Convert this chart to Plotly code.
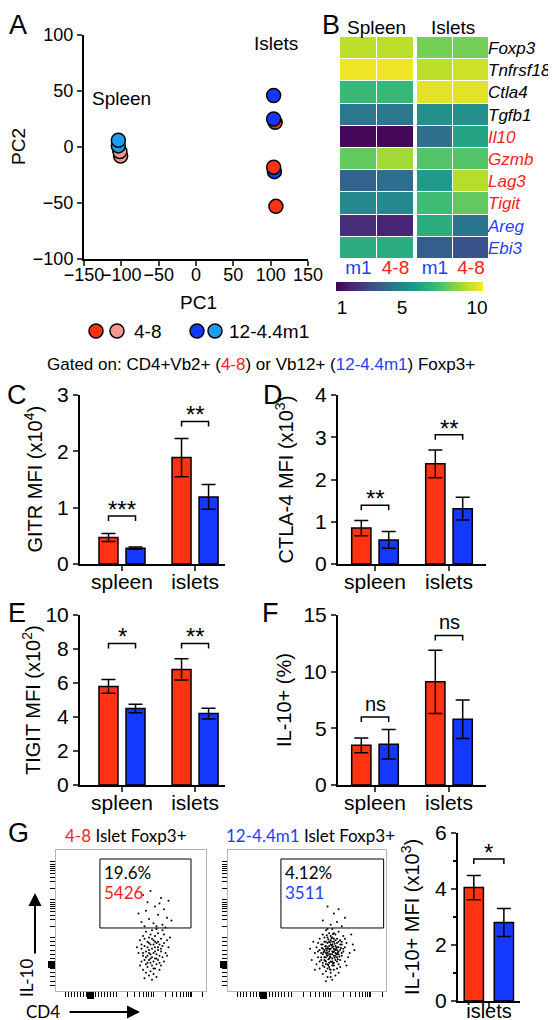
import numpy as np
import plotly.graph_objects as go

W, H = 556, 1020
FONT = "Liberation Sans, Arial, sans-serif"
FLOWFONT = "Lato, Liberation Sans, sans-serif"
RED = "#ff3311"
BLUE = "#1438ff"
PINK = "#f4978e"
LBLUE = "#1e9cf0"
TRED = "#ff2020"
TBLUE = "#1f3fff"

# ---------------- Panel A: PCA ----------------
pca_pc1 = [-101, -102, -104, -104, 106, 104, 104, 105, 104, 107]
pca_pc2 = [-8, -4, 1, 6, 22, 25, 46, -22, -18, -53]
pca_strain = ["4-8", "4-8", "12-4.4m1", "12-4.4m1", "4-8",
              "12-4.4m1", "12-4.4m1", "12-4.4m1", "4-8", "4-8"]
pca_tissue = ["Spleen"] * 4 + ["Islets"] * 6

# ---------------- Panel B: heatmap ----------------
genes = ["Foxp3", "Tnfrsf18", "Ctla4", "Tgfb1", "Il10", "Gzmb", "Lag3", "Tigit", "Areg", "Ebi3"]
gene_color = ["black"] * 4 + [TRED] * 4 + [TBLUE] * 2
heat_cols = ["m1", "4-8"]
spleen_m1 = [9.4, 10.2, 7.2, 4.5, 0.8, 8.0, 3.7, 5.2, 1.9, 6.7]
spleen_48 = [9.4, 10.2, 7.2, 4.5, 0.8, 9.0, 4.1, 5.2, 1.6, 6.7]
islets_m1 = [8.3, 9.4, 10.0, 5.5, 4.2, 7.7, 5.9, 7.3, 6.7, 3.5]
islets_48 = [8.3, 9.7, 10.0, 5.5, 6.3, 7.7, 9.3, 8.0, 4.4, 3.1]
cbar_ticks = [1, 5, 10]

# ---------------- Panels C-F ----------------
categories = ["spleen", "islets"]
gitr_48 = [0.47, 1.89]; gitr_48_err = [0.07, 0.34]
gitr_m1 = [0.28, 1.19]; gitr_m1_err = [0.02, 0.22]
gitr_sig = ["***", "**"]; gitr_sig_y = [0.85, 2.53]

ctla4_48 = [0.85, 2.37]; ctla4_48_err = [0.18, 0.33]
ctla4_m1 = [0.57, 1.31]; ctla4_m1_err = [0.20, 0.27]
ctla4_sig = ["**", "**"]; ctla4_sig_y = [1.39, 3.06]

tigit_48 = [5.8, 6.8]; tigit_48_err = [0.4, 0.63]
tigit_m1 = [4.5, 4.2]; tigit_m1_err = [0.25, 0.32]
tigit_sig = ["*", "**"]; tigit_sig_y = [8.33, 8.33]

il10_48 = [3.5, 9.1]; il10_48_err = [0.65, 2.8]
il10_m1 = [3.6, 5.8]; il10_m1_err = [1.3, 1.7]
il10_sig = ["ns", "ns"]; il10_sig_y = [6.0, 13.2]

# ---------------- Panel G ----------------
g_categories = ["islets"]
il10mfi_48 = [4.05]; il10mfi_48_err = [0.43]
il10mfi_m1 = [2.8]; il10mfi_m1_err = [0.5]
il10mfi_sig = ["*"]; il10mfi_sig_y = [5.07]

flow1_cd4 = [58, 63, 70, 75, 66, 72, 60, 55, 68, 74, 62, 57, 65, 71, 77, 59, 67, 73, 61, 69,
             64, 60, 68, 72, 58, 66, 62, 70, 74, 56, 65, 61, 67, 69, 63, 59, 71, 75, 57, 64,
             66, 62, 68, 60, 70, 73, 55, 65, 63, 67, 58, 61, 69, 71, 64, 66, 59, 62, 68, 72,
             57, 65, 63, 60, 67, 70, 56, 64, 61, 66, 58, 69, 63, 60, 65, 62, 67, 64, 59, 66,
             61, 64, 68, 72, 57, 66, 62, 70, 63, 67, 60, 65, 61, 69, 58, 74, 54, 76, 63, 67,
             71, 59, 65, 62, 68]
flow1_il10 = [68, 71, 66, 64, 60, 58, 57, 55, 54, 52, 51, 49, 48, 47, 50, 46, 46, 45, 63, 62,
              43, 42, 41, 40, 39, 39, 38, 37, 36, 36, 36, 35, 34, 33, 33, 32, 32, 31, 30, 30,
              31, 29, 29, 28, 28, 27, 27, 27, 26, 26, 25, 25, 25, 24, 24, 23, 22, 22, 22, 21,
              21, 21, 20, 19, 19, 18, 18, 18, 17, 16, 15, 15, 14, 13, 12, 11, 10, 8, 9, 35,
              31, 37, 35, 34, 33, 28, 34, 30, 23, 23, 24, 16, 20, 20, 27, 25, 31, 38, 40, 44,
              43, 37, 33, 27, 31]
flow2_cd4 = [63, 70, 67, 74, 60, 69, 65, 72,
             66, 62, 70, 64, 68, 60, 73, 66, 63, 69, 58, 71, 65, 61, 67, 75, 63, 69, 59, 66,
             72, 62, 64, 68, 56, 70, 74, 60, 65, 67, 63, 71, 58, 69, 61, 66, 64, 73, 55, 68,
             62, 70, 60, 65, 67, 63, 72, 57, 69, 61, 66, 64, 59, 71, 68, 62, 65, 74, 60, 67,
             63, 70, 56, 66, 61, 64, 69, 58, 67, 62, 65, 60, 68, 63, 66, 53, 77, 79, 54, 76,
             65, 61, 68, 72, 64, 57, 66, 62, 69, 71, 63, 67, 59, 73, 65, 61, 68, 70, 64, 66,
             62, 58, 69, 63, 67, 60, 71, 65, 64, 66, 62, 67, 63, 69, 60, 65, 68, 61, 66, 64,
             70, 62, 59, 72, 57, 74, 67, 63, 65, 62, 70, 75, 55, 52, 80, 78,
             64.5, 66.5, 62.5, 68.5, 65.5, 63.5, 67.5, 61.5, 69.5, 64.5,
             66.5, 60.5, 70.5, 63.5, 67.5, 65.5, 62.5, 68.5, 64.5, 66.5,
             59.5, 71.5, 63.5, 65.5, 61.5, 69.5, 67.5, 64.5, 66.5, 62.5]
flow2_il10 = [60, 58, 55, 52, 50, 49, 47, 46,
              44, 43, 42, 41, 40, 40, 39, 38, 38, 37, 37, 36, 36, 35, 35, 34, 34, 34, 33, 33,
              33, 32, 32, 32, 31, 31, 31, 30, 30, 30, 30, 29, 29, 29, 28, 28, 28, 28, 27, 27,
              27, 26, 26, 26, 25, 25, 25, 24, 24, 24, 23, 23, 22, 22, 22, 21, 21, 21, 20, 20,
              19, 19, 19, 18, 17, 17, 16, 16, 15, 14, 13, 12, 11, 10, 8, 22, 27, 33, 35, 24,
              39, 38, 36, 35, 35, 34, 31, 30, 31, 33, 27, 28, 27, 30, 24, 22, 25, 28, 26, 21,
              24, 21, 21, 16, 18, 18, 17, 15, 20, 26, 35, 37, 31, 26, 33, 33, 29, 29, 35, 30,
              35, 19, 24, 27, 28, 37, 41, 44, 10, 7, 13, 18, 15, 30, 29, 40,
              29.5, 27.5, 25.5, 30.5, 32.5, 22.5, 23.5, 31.5, 27.5, 34.5,
              19.5, 27.5, 24.5, 36.5, 33.5, 20.5, 28.5, 26.5, 24.5, 31.5,
              30.5, 30.5, 18.5, 37.5, 21.5, 22.5, 29.5, 15.5, 40.5, 39.5]
flow1_gate = dict(x0=29.3, x1=90, y0=44.7, y1=93.6)
flow2_gate = dict(x0=33.5, x1=98.5, y0=44.7, y1=93.6)
flow1_stats = ["19.6%", "5426"]
flow2_stats = ["4.12%", "3511"]

# logicle-style display positions for the flow axes (display units 0-100)
flow_y_zero = 19
flow_y_decades = [38, 65, 92]
flow_y_low = [4, 7, 10, 13, 16, 23, 26, 29, 32, 35]
flow_x_zero = 22.7
flow_x_decades = [40, 65, 90]
flow_x_low = [6, 8, 10, 12, 14, 16, 18, 20, 26, 28, 30, 32, 34, 36, 38]
DECADE = 26

ROT_SHIFT = -9  # compensation for rotated annotation placement


def xdom(a, b):
    return [a / W, b / W]


def ydom(top, bottom):
    return [1 - bottom / H, 1 - top / H]


fig = go.Figure()
annotations = []
shapes = []


def ann(text, x, y, size, color="black", xanchor="center", yanchor="middle", angle=0,
        family=FONT, **kw):
    if angle:
        x = x + ROT_SHIFT
    annotations.append(dict(text=text, x=x / W, y=1 - y / H, xref="paper", yref="paper",
                            showarrow=False, xanchor=xanchor, yanchor=yanchor, textangle=angle,
                            font=dict(family=family, size=size, color=color), **kw))


# ---------------- Panel A ----------------
col_map = {("4-8", "Spleen"): PINK, ("4-8", "Islets"): RED,
           ("12-4.4m1", "Spleen"): LBLUE, ("12-4.4m1", "Islets"): BLUE}
fig.add_trace(go.Scatter(
    x=pca_pc1, y=pca_pc2, mode="markers", xaxis="x", yaxis="y", showlegend=False,
    marker=dict(size=14, color=[col_map[(s, t)] for s, t in zip(pca_strain, pca_tissue)],
                line=dict(color="black", width=1.5))))

axA = dict(showline=True, linecolor="black", linewidth=2, ticks="outside", ticklen=5,
           tickwidth=2, showgrid=False, zeroline=False, automargin=False,
           tickfont=dict(family=FONT, size=18, color="black"))

layout = dict(
    width=W, height=H, margin=dict(l=0, r=0, t=0, b=0, pad=0, autoexpand=False),
    paper_bgcolor="white", plot_bgcolor="white", showlegend=False,
    xaxis=dict(domain=xdom(76, 300), range=[-150, 150], dtick=50, tickangle=0, anchor="y",
               ticklabelstandoff=-7, **axA),
    yaxis=dict(domain=ydom(27, 251), range=[-100, 100], dtick=50, anchor="x", **axA),
)
ann("PC2", 20, 139, 19, angle=-90)
ann("PC1", 191, 294, 19)
ann("Spleen", 113, 90, 19)
ann("Islets", 268, 36, 19)
# key for panel A
for cx, c in [(88, RED), (109, PINK), (189, BLUE), (207, LBLUE)]:
    shapes.append(dict(type="circle", xref="paper", yref="paper",
                       x0=(cx - 7) / W, x1=(cx + 7) / W, y0=1 - (323 + 7) / H, y1=1 - (323 - 7) / H,
                       fillcolor=c, line=dict(color="black", width=1.5)))
ann("4-8", 124, 323, 19, xanchor="left")
ann("12-4.4m1", 219, 323, 19, xanchor="left")

# ---------------- Panel B ----------------
for n, (m1, s48) in zip([2, 3], [(spleen_m1, spleen_48), (islets_m1, islets_48)]):
    fig.add_trace(go.Heatmap(z=np.array([m1, s48]).T, x=heat_cols, y=genes,
                             coloraxis="coloraxis", xgap=1, ygap=1,
                             xaxis=f"x{n}", yaxis=f"y{n}"))
tick_cols = [f'<span style="color:{TBLUE}">m1</span>', f'<span style="color:{TRED}">4-8</span>']
for n, dom in [(2, xdom(332, 406)), (3, xdom(409, 481))]:
    layout[f"xaxis{n}"] = dict(domain=dom, type="category", anchor=f"y{n}", showline=False,
                               showgrid=False, zeroline=False, ticks="", tickvals=heat_cols,
                               ticktext=tick_cols, automargin=False, ticklabelstandoff=-5,
                               tickfont=dict(family=FONT, size=19))
layout["yaxis2"] = dict(domain=ydom(29, 251), type="category", anchor="x2", autorange="reversed",
                        showticklabels=False, showgrid=False, zeroline=False, ticks="",
                        automargin=False)
layout["yaxis3"] = dict(domain=ydom(29, 251), type="category", anchor="x3", autorange="reversed",
                        side="right", showgrid=False, zeroline=False, ticks="", automargin=False,
                        tickvals=genes, ticklabelstandoff=-2,
                        ticktext=[f'<i><span style="color:{c}">{g}</span></i>'
                                  for g, c in zip(genes, gene_color)],
                        tickfont=dict(family=FONT, size=17))
layout["coloraxis"] = dict(
    colorscale="Viridis", cmin=0.6, cmax=10.4,
    colorbar=dict(orientation="h", x=(332 + 481) / 2 / W - 5 / W, xanchor="center",
                  y=1 - 274 / H, yanchor="top", len=147 / W, lenmode="fraction",
                  thickness=9, outlinewidth=0, xpad=0, ypad=0, tickvals=cbar_ticks, ticks="",
                  tickfont=dict(family=FONT, size=19, color="black")))
ann("Spleen", 368, 19, 19)
ann("Islets", 445, 19, 19)

# ---------------- Gated-on line ----------------
ann(f'Gated on: CD4+Vb2+ (<span style="color:{TRED}">4-8</span>) or Vb12+ '
    f'(<span style="color:{TBLUE}">12-4.4m1</span>) Foxp3+', 253, 356, 17)


# ---------------- bar panels ----------------
def bar_panel(n, xd, yd, xrange, yrange, dtick, cats, v48, e48, vm1, em1, sig, sigy,
              red_off, blue_off, bw, ytitle, ytitle_x, minor_dtick=None, sig_size=24,
              xstandoff=-7, xfont=21):
    xa, ya = f"x{n}", f"y{n}"
    pos = list(range(len(cats)))
    for vals, errs, col, off in [(v48, e48, RED, red_off), (vm1, em1, BLUE, blue_off)]:
        fig.add_trace(go.Bar(x=pos, y=vals, width=bw, offset=off, xaxis=xa, yaxis=ya,
                             marker=dict(color=col, line=dict(color="black", width=1.5)),
                             error_y=dict(type="data", array=errs, color="black",
                                          thickness=1.5, width=7),
                             showlegend=False))
    hpx = (yd[1] - yd[0]) * H
    drop = 5 * (yrange[1] - yrange[0]) / hpx
    for c, s, h in zip(pos, sig, sigy):
        xl = c + red_off + bw / 2
        xr = c + blue_off + bw / 2
        fig.add_trace(go.Scatter(x=[xl, xl, xr, xr], y=[h - drop, h, h, h - drop], mode="lines",
                                 line=dict(color="black", width=1.5), xaxis=xa, yaxis=ya,
                                 showlegend=False, hoverinfo="skip"))
        is_star = "*" in s
        annotations.append(dict(text=s, x=(xl + xr) / 2, y=h, xref=xa, yref=ya, showarrow=False,
                                xanchor="center", yanchor="bottom",
                                yshift=-9 if is_star else 0,
                                font=dict(family=FONT, size=sig_size if is_star else 20,
                                          color="black")))
    base = dict(showline=True, linecolor="black", linewidth=2, ticks="outside", ticklen=5,
                tickwidth=2, showgrid=False, zeroline=False, automargin=False)
    layout[f"xaxis{n}"] = dict(domain=xd, range=xrange, anchor=ya, tickmode="array",
                               tickvals=pos, ticktext=cats, ticklabelstandoff=xstandoff,
                               tickfont=dict(family=FONT, size=xfont, color="black"), **base)
    yax = dict(domain=yd, range=yrange, dtick=dtick, anchor=xa,
               tickfont=dict(family=FONT, size=21, color="black"), **base)
    if minor_dtick:
        yax["minor"] = dict(dtick=minor_dtick, ticks="outside", ticklen=3, tickwidth=1.5,
                            tickcolor="black", showgrid=False)
    layout[f"yaxis{n}"] = yax
    ymid = H * (1 - (yd[0] + yd[1]) / 2)
    ann(ytitle, ytitle_x, ymid, 20, angle=-90)


bar_panel(4, xdom(72, 217), ydom(387, 556), [-0.575, 1.41], [0, 3], 1, categories,
          gitr_48, gitr_48_err, gitr_m1, gitr_m1_err, gitr_sig, gitr_sig_y,
          -0.315, 0.055, 0.26, "GITR MFI (x10<sup>4</sup>)", 34)
bar_panel(5, xdom(330, 478), ydom(387, 556), [-0.5, 1.5], [0, 4], 1, categories,
          ctla4_48, ctla4_48_err, ctla4_m1, ctla4_m1_err, ctla4_sig, ctla4_sig_y,
          -0.315, 0.055, 0.26, "CTLA-4 MFI (x10<sup>3</sup>)", 285)
bar_panel(6, xdom(72, 217), ydom(607, 777), [-0.575, 1.41], [0, 10], 2, categories,
          tigit_48, tigit_48_err, tigit_m1, tigit_m1_err, tigit_sig, tigit_sig_y,
          -0.315, 0.055, 0.26, "TIGIT MFI (x10<sup>2</sup>)", 32)
bar_panel(7, xdom(330, 478), ydom(607, 777), [-0.5, 1.5], [0, 15], 5, categories,
          il10_48, il10_48_err, il10_m1, il10_m1_err, il10_sig, il10_sig_y,
          -0.315, 0.055, 0.26, "IL-10+ (%)", 285)
bar_panel(10, xdom(450, 512), ydom(825, 993), [-0.5, 0.5], [0, 6], 2, g_categories,
          il10mfi_48, il10mfi_48_err, il10mfi_m1, il10mfi_m1_err, il10mfi_sig, il10mfi_sig_y,
          -0.4, 0.085, 0.31, "IL-10+ MFI (x10<sup>3</sup>)", 412, minor_dtick=1,
          xstandoff=-14, xfont=20)


# ---------------- flow plots ----------------
def minor_ticks(low, decades):
    vals = list(low)
    for d in decades:
        for m in range(1, 10):
            v = d + DECADE * np.log10(m)
            if v <= 99:
                vals.append(float(v))
    return vals


def flow_axis(dom, anchor, zero, low, decades):
    return dict(domain=dom, range=[0, 100], anchor=anchor, showline=True, linecolor="#b4b4b4",
                linewidth=1, mirror=True, ticks="outside", tickmode="array", tickvals=[zero],
                ticklen=7, tickwidth=7, tickcolor="black", showticklabels=False,
                showgrid=False, zeroline=False, automargin=False,
                minor=dict(tickmode="array", tickvals=minor_ticks(low, decades), ticks="outside",
                           ticklen=5, tickwidth=1, tickcolor="black", showgrid=False))


for n, xd, cd4, il10, gate, stats, scol in [
        (8, xdom(48, 198), flow1_cd4, flow1_il10, flow1_gate, flow1_stats, TRED),
        (9, xdom(220, 378), flow2_cd4, flow2_il10, flow2_gate, flow2_stats, TBLUE)]:
    xa, ya = f"x{n}", f"y{n}"
    fig.add_trace(go.Scatter(x=cd4, y=il10, mode="markers", xaxis=xa, yaxis=ya, showlegend=False,
                             marker=dict(size=2, color="black")))
    layout[f"xaxis{n}"] = flow_axis(xd, ya, flow_x_zero, flow_x_low, flow_x_decades)
    layout[f"yaxis{n}"] = flow_axis(ydom(842, 983), xa, flow_y_zero, flow_y_low, flow_y_decades)
    shapes.append(dict(type="rect", xref=xa, yref=ya, line=dict(color="black", width=1), **gate))
    annotations.append(dict(text=stats[0], x=gate["x0"] + 1.5, y=gate["y1"] - 1, xref=xa, yref=ya,
                            showarrow=False, xanchor="left", yanchor="top",
                            font=dict(family=FLOWFONT, size=17, color="black")))
    annotations.append(dict(text=stats[1], x=gate["x0"] + 1.5, y=gate["y1"] - 15, xref=xa, yref=ya,
                            showarrow=False, xanchor="left", yanchor="top",
                            font=dict(family=FLOWFONT, size=17, color=scol)))

ann(f'<span style="color:{TRED}">4-8</span> Islet Foxp3+', 118, 827, 17, family=FLOWFONT)
ann(f'<span style="color:{TBLUE}">12-4.4m1</span> Islet Foxp3+', 302, 827, 17, family=FLOWFONT)
ann("IL-10", 27, 970, 17, angle=-90, family=FLOWFONT)
ann("CD4", 35, 1003, 17, family=FLOWFONT)
annotations.append(dict(x=27 / W, y=1 - 885 / H, xref="paper", yref="paper", text="",
                        showarrow=True, ax=0, ay=62, arrowhead=2, arrowsize=1.3, arrowwidth=2,
                        arrowcolor="black"))
annotations.append(dict(x=132 / W, y=1 - 1004 / H, xref="paper", yref="paper", text="",
                        showarrow=True, ax=-72, ay=0, arrowhead=2, arrowsize=1.3, arrowwidth=2,
                        arrowcolor="black"))

# ---------------- panel letters ----------------
ann("A", 10, 0, 27, yanchor="top")
ann("B", 323, 0, 27, yanchor="top")
for letter, x, y in [("C", 9, 387), ("D", 265, 387),
                     ("E", 9, 605), ("F", 262, 605), ("G", 10, 825)]:
    ann(letter, x, y, 27)

layout["annotations"] = annotations
layout["shapes"] = shapes
fig.update_layout(**layout)
fig.write_html("out.html")
